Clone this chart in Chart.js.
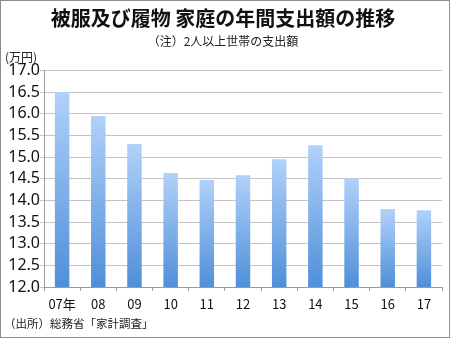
<!DOCTYPE html>
<html>
<head>
<meta charset="utf-8">
<script src="https://cdn.jsdelivr.net/npm/chart.js@4/dist/chart.umd.min.js"></script>
<style>
  html, body { margin: 0; padding: 0; background: #fff; }
  canvas { display: block; }
</style>
</head>
<body>
<canvas id="spendChart" width="450" height="338"></canvas>
<script>
  // 被服及び履物 年間支出額（万円）
  const years = ['07年', '08', '09', '10', '11', '12', '13', '14', '15', '16', '17'];
  const spending = [16.5, 15.95, 15.3, 14.63, 14.47, 14.58, 14.95, 15.27, 14.5, 13.8, 13.77];
  const yTicks = [12.0, 12.5, 13.0, 13.5, 14.0, 14.5, 15.0, 15.5, 16.0, 16.5, 17.0];

  const jpFont = '"Noto Sans CJK JP", "Noto Sans", sans-serif';

  // white background, frame, unit label and source note
  const frameAndNotes = {
    id: 'frameAndNotes',
    beforeDraw(chart) {
      const c = chart.ctx;
      c.save();
      c.fillStyle = '#fff';
      c.fillRect(0, 0, chart.width, chart.height);
      c.restore();
    },
    afterDraw(chart) {
      const c = chart.ctx;
      c.save();
      c.fillStyle = '#222';
      c.textBaseline = 'middle';
      c.textAlign = 'left';
      c.font = '12px ' + jpFont;
      c.fillText('(万円)', 5, 57);
      c.font = '11.5px ' + jpFont;
      c.fillText('（出所）総務省「家計調査」', 4, 324);
      c.strokeStyle = '#8c8c8c';
      c.lineWidth = 1;
      c.strokeRect(0.5, 0.5, chart.width - 1, chart.height - 1);
      c.restore();
    }
  };

  // light-to-dark blue fill running down each bar
  function barFill(context) {
    const chart = context.chart;
    const y = chart.scales.y;
    if (!y || context.parsed === undefined) return '#7aaee9';
    const top = y.getPixelForValue(context.parsed.y);
    const bottom = y.getPixelForValue(y.min);
    if (!isFinite(top) || !isFinite(bottom) || top === bottom) return '#7aaee9';
    const g = chart.ctx.createLinearGradient(0, top, 0, bottom);
    g.addColorStop(0, '#b1d1fa');
    g.addColorStop(1, '#4f8fd8');
    return g;
  }

  new Chart(document.getElementById('spendChart'), {
    type: 'bar',
    data: {
      labels: years,
      datasets: [{
        data: spending,
        backgroundColor: barFill,
        borderWidth: 0,
        barPercentage: 0.4,
        categoryPercentage: 1.0
      }]
    },
    options: {
      responsive: false,
      animation: false,
      layout: { padding: { left: 4, right: 8, top: 0, bottom: 0 } },
      plugins: {
        legend: { display: false },
        tooltip: { enabled: false },
        title: {
          display: true,
          text: '被服及び履物 家庭の年間支出額の推移',
          color: '#111',
          font: { family: jpFont, size: 20, weight: 'bold' },
          padding: { top: 6, bottom: 4 }
        },
        subtitle: {
          display: true,
          text: '（注）2人以上世帯の支出額',
          color: '#222',
          font: { family: jpFont, size: 12 },
          padding: { top: 0, bottom: 22 }
        }
      },
      scales: {
        y: {
          min: 12,
          max: 17,
          afterFit(scale) { scale.width = 40; },
          afterBuildTicks(scale) { scale.ticks = yTicks.map(v => ({ value: v })); },
          ticks: {
            color: '#111',
            padding: 0,
            autoSkip: false,
            font: { family: '"Noto Sans", sans-serif', size: 16 },
            callback: v => Number(v).toFixed(1)
          },
          grid: { color: '#c4c4c4', tickLength: 4 },
          border: { color: '#9a9a9a' }
        },
        x: {
          afterFit(scale) { scale.height = 51; },
          ticks: {
            color: '#111',
            padding: 5,
            maxRotation: 0,
            font: { family: jpFont, size: 13 }
          },
          grid: { drawOnChartArea: false, color: '#9a9a9a', tickLength: 4 },
          border: { color: '#9a9a9a' }
        }
      }
    },
    plugins: [frameAndNotes]
  });
</script>
</body>
</html>
